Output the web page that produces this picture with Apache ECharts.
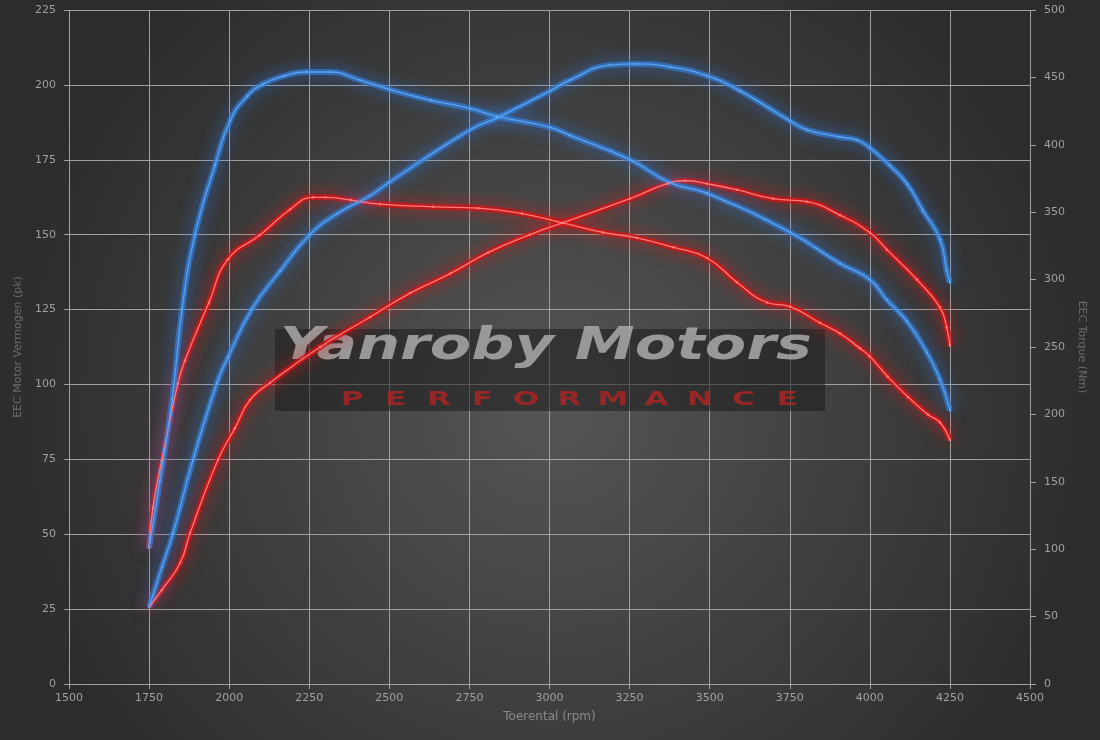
<!DOCTYPE html>
<html>
<head>
<meta charset="utf-8">
<title>Yanroby Motors dyno</title>
<script src="https://cdn.jsdelivr.net/npm/echarts@6/dist/echarts.min.js"></script>
<style>
  html, body { margin: 0; padding: 0; background: #2e2e2e; }
  #chart { width: 1100px; height: 740px; }
</style>
</head>
<body>
<div id="chart"></div>
<script>
// tuned torque (Nm, right axis)
const tunedTorqueRpm = [1750, 1784, 1822, 1853, 1893, 1956, 2003, 2056, 2106, 2170, 2240, 2315, 2408, 2502, 2630, 2752, 2836, 3002, 3064, 3251, 3376, 3492, 3751, 3907, 4000, 4053, 4116, 4178, 4219, 4250]
const tunedTorque = [101, 151, 211, 278, 333, 385, 418, 436, 445, 451, 454, 454, 448, 441, 433, 427, 421, 413, 407, 389, 372, 364, 335, 312, 300, 285, 269, 246, 226, 203]

// tuned power (pk, left axis)
const tunedPowerRpm = [1750, 1790, 1825, 1887, 1962, 1996, 2070, 2160, 2252, 2337, 2440, 2500, 2752, 2836, 3002, 3064, 3189, 3273, 3376, 3492, 3595, 3751, 3804, 3907, 3960, 4000, 4063, 4116, 4166, 4219, 4240, 4250]
const tunedPower = [25.7, 39, 50.4, 74.8, 100.5, 109, 125, 138, 150, 157, 163, 167.5, 185, 189, 198, 201.6, 206.6, 207, 206, 203, 198, 188, 185, 182.6, 181.6, 179, 173, 167, 158, 148.5, 138, 134]

// stock torque (Nm, right axis)
const stockTorqueRpm = [1750, 1762, 1790, 1840, 1862, 1937, 1996, 2096, 2190, 2262, 2300, 2380, 2471, 2636, 2777, 2914, 3042, 3167, 3273, 3386, 3492, 3585, 3679, 3751, 3844, 3907, 3969, 4000, 4056, 4119, 4181, 4219, 4250]
const stockTorque = [101, 131, 166, 223, 240, 283, 315, 333, 352, 361, 361, 359, 356, 354, 353, 349, 342, 335, 331, 324, 316, 298, 283, 280, 268, 260, 249, 243, 228, 213, 200, 194, 181]

// stock power (pk, left axis)
const stockPowerRpm = [1750, 1790, 1847, 1878, 1965, 2018, 2065, 2127, 2284, 2440, 2565, 2690, 2808, 2939, 3042, 3251, 3367, 3423, 3492, 3585, 3698, 3804, 3907, 4000, 4053, 4147, 4219, 4240, 4250]
const stockPower = [25.7, 31.4, 40.4, 50.4, 74.8, 85.4, 94.8, 100.5, 112.5, 122.5, 130.5, 137, 144, 150, 154, 162, 167, 168, 167, 165, 162, 161, 156.5, 150.7, 145, 135, 125.7, 119, 113]

const pair = (xs, ys) => xs.map((x, i) => [x, ys[i]])

const blue = { glow: 'rgba(50, 125, 215, 0.7)', shadow: 'rgba(45, 130, 255, 0.9)', core: '#5ea3ee' }
const red = { glow: 'rgba(215, 20, 20, 0.75)', shadow: 'rgba(255, 20, 20, 0.9)', core: '#ff7a7a' }

// each curve: a blurred wide line plus a thin bright core with small dots
const curve = (name, data, yAxisIndex, c) => [
  {
    name: name + ' glow',
    type: 'line',
    yAxisIndex,
    data,
    smooth: 0.5,
    showSymbol: false,
    silent: true,
    z: 2,
    lineStyle: { width: 6, color: c.glow, shadowColor: c.shadow, shadowBlur: 16 },
  },
  {
    name,
    type: 'line',
    yAxisIndex,
    data,
    smooth: 0.5,
    symbol: 'circle',
    symbolSize: 2.5,
    z: 3,
    itemStyle: { color: c.core },
    lineStyle: { width: 1.3, color: c.core },
  },
]

const chart = echarts.init(document.getElementById('chart'))

const letters = 'PERFORMANCE'.split('')
const plain = (v) => String(v)

chart.setOption({
  animation: false,
  backgroundColor: {
    type: 'radial',
    x: 0.5,
    y: 0.55,
    r: 0.75,
    colorStops: [
      { offset: 0, color: '#555555' },
      { offset: 1, color: '#2c2c2c' },
    ],
  },
  grid: { left: 69, right: 70, top: 10, bottom: 56 },
  xAxis: {
    type: 'value',
    min: 1500,
    max: 4500,
    interval: 250,
    name: 'Toerental (rpm)',
    nameLocation: 'middle',
    nameGap: 27,
    nameTextStyle: { color: '#8a8a8a', fontSize: 12, fontFamily: 'DejaVu Sans' },
    axisLine: { show: false },
    axisTick: { show: true, length: 5, lineStyle: { color: '#a0a0a0' } },
    axisLabel: { color: '#a0a0a0', fontSize: 11, margin: 9, fontFamily: 'DejaVu Sans', formatter: plain },
    splitLine: { lineStyle: { color: '#a0a0a0', width: 1 } },
  },
  yAxis: [
    {
      type: 'value',
      min: 0,
      max: 225,
      interval: 25,
      name: 'EEC Motor Vermogen (pk)',
      nameLocation: 'middle',
      nameGap: 44,
      nameTextStyle: { color: '#6a6a6a', fontSize: 11, fontFamily: 'DejaVu Sans' },
      axisLine: { show: false },
      axisTick: { show: true, length: 5, lineStyle: { color: '#a0a0a0' } },
      axisLabel: { color: '#a0a0a0', fontSize: 11, margin: 13, fontFamily: 'DejaVu Sans', formatter: plain },
      splitLine: { lineStyle: { color: '#a0a0a0', width: 1 } },
    },
    {
      type: 'value',
      min: 0,
      max: 500,
      interval: 50,
      position: 'right',
      name: 'EEC Torque (Nm)',
      nameLocation: 'middle',
      nameRotate: -90,
      nameGap: 46,
      nameTextStyle: { color: '#6a6a6a', fontSize: 11, fontFamily: 'DejaVu Sans' },
      axisLine: { show: false },
      axisTick: { show: true, length: 6, lineStyle: { color: '#a0a0a0' } },
      axisLabel: { color: '#a0a0a0', fontSize: 11, margin: 14, fontFamily: 'DejaVu Sans', formatter: plain },
      splitLine: { show: false },
    },
  ],
  graphic: [
    {
      type: 'rect',
      left: 275,
      top: 329,
      shape: { width: 550, height: 82 },
      style: { fill: 'rgba(28, 28, 28, 0.55)' },
      z: 1,
    },
    {
      type: 'text',
      x: 280,
      y: 326,
      scaleX: 1.37,
      style: {
        text: 'Yanroby Motors',
        fill: 'rgba(170, 170, 170, 0.85)',
        font: 'italic bold 44px "DejaVu Sans"',
      },
      z: 1,
    },
    ...letters.map((ch, i) => ({
      type: 'text',
      x: 352 + i * 43.5,
      y: 400,
      scaleX: 1.55,
      style: {
        text: ch,
        fill: 'rgba(185, 35, 35, 0.75)',
        font: 'bold 20px "DejaVu Sans"',
        align: 'center',
        verticalAlign: 'middle',
        shadowColor: 'rgba(200, 30, 30, 0.8)',
        shadowBlur: 3,
      },
      z: 1,
    })),
  ],
  series: [
    ...curve('Origineel vermogen', pair(stockPowerRpm, stockPower), 0, red),
    ...curve('Origineel koppel', pair(stockTorqueRpm, stockTorque), 1, red),
    ...curve('Getuned vermogen', pair(tunedPowerRpm, tunedPower), 0, blue),
    ...curve('Getuned koppel', pair(tunedTorqueRpm, tunedTorque), 1, blue),
  ],
})
</script>
</body>
</html>
